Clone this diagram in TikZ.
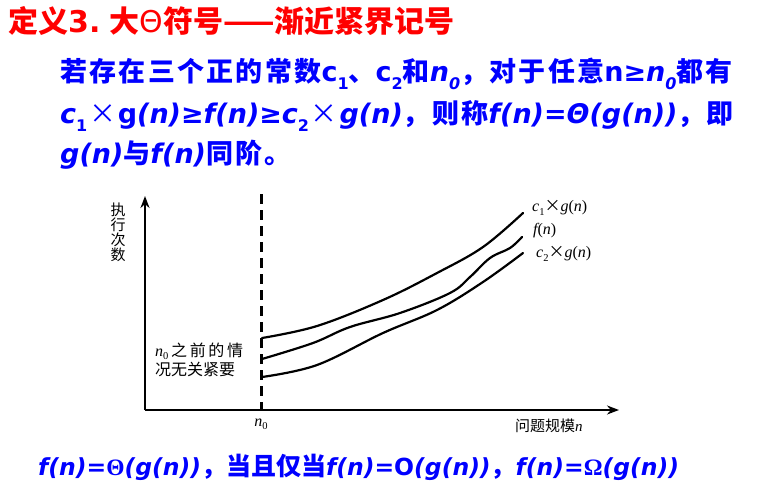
\documentclass[tikz,border=0pt]{standalone}
\usepackage{fontspec}
\usetikzlibrary{arrows.meta}
\newfontfamily\cjk{Noto Sans CJK SC}
\newfontfamily\cjkw[LetterSpace=8.5]{Noto Sans CJK SC}
\newfontfamily\lat{DejaVu Sans}
\newfontfamily\ser{Liberation Serif}
\newcommand{\Lu}[1]{{\lat #1}}
\newcommand{\Li}[1]{{\lat\itshape #1}}
\newcommand{\Sb}[1]{\raisebox{-0.3em}{\fontsize{16}{16}\selectfont #1}}
\newcommand{\Rs}[1]{\raisebox{-0.2em}{\fontsize{10.5}{10.5}\selectfont #1}}
\newcommand{\Tm}{\makebox[1.13em]{\cjk\mdseries ×}}
\definecolor{tblue}{RGB}{0,0,255}
\definecolor{tred}{RGB}{255,0,0}
\begin{document}
\begin{tikzpicture}[x=1pt,y=-1pt,
  titlefont/.style={font=\cjk\bfseries\fontsize{30}{34}\selectfont, text=tred},
  bluetext/.style={font=\cjkw\bfseries\fontsize{27}{30}\selectfont, text=tblue, anchor=west, inner sep=0pt},
  bluebot/.style={font=\cjk\bfseries\fontsize{25}{30}\selectfont, text=tblue, anchor=west, inner sep=0pt},
  labfont/.style={anchor=west, inner sep=0pt, font=\ser\itshape\fontsize{16}{16}\selectfont},
  curve/.style={line width=2.2pt, line cap=round, line join=round},
  axis/.style={line width=2.2pt, -{Stealth[length=12pt,width=9pt]}}]
\useasboundingbox (0,0) rectangle (777,491);
% title
\node[titlefont, anchor=west, inner sep=0pt] (title) at (8,21)
  {定义\Lu{3.} 大{\mdseries\lat Θ}符号——渐近紧界记号};
% blue lines
\node[bluetext] (l1) at (60,74)
  {若存在三个正的常数\Lu{c}\Sb{\Lu{1}}、\Lu{c}\Sb{\Lu{2}}和\Li{n}\Sb{\Li{0}}，对于任意\Lu{n≥}\Li{n}\Sb{\Li{0}}都有};
\node[bluetext] (l2) at (60,116)
  {\Li{c}\Sb{\Lu{1}}\Tm\Lu{g}\Li{(n)}\Lu{≥}\Li{f(n)}\Lu{≥}\Li{c}\Sb{\Lu{2}}\Tm\Li{g(n)}，则称\Li{f(n)=Θ(g(n))}，即};
\node[bluetext] (l3) at (60,155)
  {\Li{g(n)}与\Li{f(n)}同阶。};
% chart
\coordinate (O) at (145,410);
\coordinate (Ytop) at (145,196);
\coordinate (Xend) at (619,410);
\coordinate (Dtop) at (261,194);
\coordinate (Dbot) at (261,410);
\draw[axis] (O) -- (Ytop);
\draw[axis] (O) -- (Xend);
\draw[line width=3pt, dash pattern=on 10pt off 6pt] (Dtop) -- (Dbot);
\draw[curve] plot[smooth, tension=0.6] coordinates
  {(262,338) (317,326) (383,300) (437,273) (483,247) (523,213)};
\draw[curve] plot[smooth, tension=0.6] coordinates
  {(262,359) (313,343) (350,327) (400,313) (450,293) (470,277) (490,258) (510,248) (522,237)};
\draw[curve] plot[smooth, tension=0.6] coordinates
  {(262,377) (317,365) (383,333) (437,310) (483,282) (523,253)};
% curve labels
\node[labfont] (lc1) at (532,208)
  {c\Rs{\upshape 1}{\cjk\upshape ×}g\upshape(\itshape n\upshape)};
\node[labfont] (lf) at (533,231)
  {f\upshape(\itshape n\upshape)};
\node[labfont] (lc2) at (536,254)
  {c\Rs{\upshape 2}{\cjk\upshape ×}g\upshape(\itshape n\upshape)};
% axis labels
\node[align=center, inner sep=0pt, font=\cjk\fontsize{15}{15}\selectfont] (ylab) at (118,232)
  {执\\行\\次\\数};
\node[anchor=west, inner sep=0pt, font=\cjk\fontsize{16}{16}\selectfont] (note1) at (155,351)
  {{\ser\itshape n}\Rs{\ser 0}\,之\,前\,的\,情};
\node[anchor=west, inner sep=0pt, font=\cjk\fontsize{16}{16}\selectfont] (note2) at (155,369)
  {况无关紧要};
\node[inner sep=0pt, font=\ser\itshape\fontsize{16}{16}\selectfont] (n0) at (261,424)
  {n\Rs{\upshape 0}};
\node[anchor=west, inner sep=0pt, font=\cjk\fontsize{15}{15}\selectfont] (xlab) at (515,426)
  {问题规模{\ser\itshape n}};
% bottom line
\node[bluebot] (bot) at (38,467)
  {\fontsize{23.5}{28}\selectfont\Li{f(n)}\Lu{=}{\ser Θ}\Li{(g(n))}{\fontsize{25}{28}\selectfont ，当且仅当}\Li{f(n)}\Lu{=O}\Li{(g(n))}{\fontsize{25}{28}\selectfont ，}\Li{f(n)}\Lu{=}{\ser Ω}\Li{(g(n))}};
\end{tikzpicture}
\end{document}
